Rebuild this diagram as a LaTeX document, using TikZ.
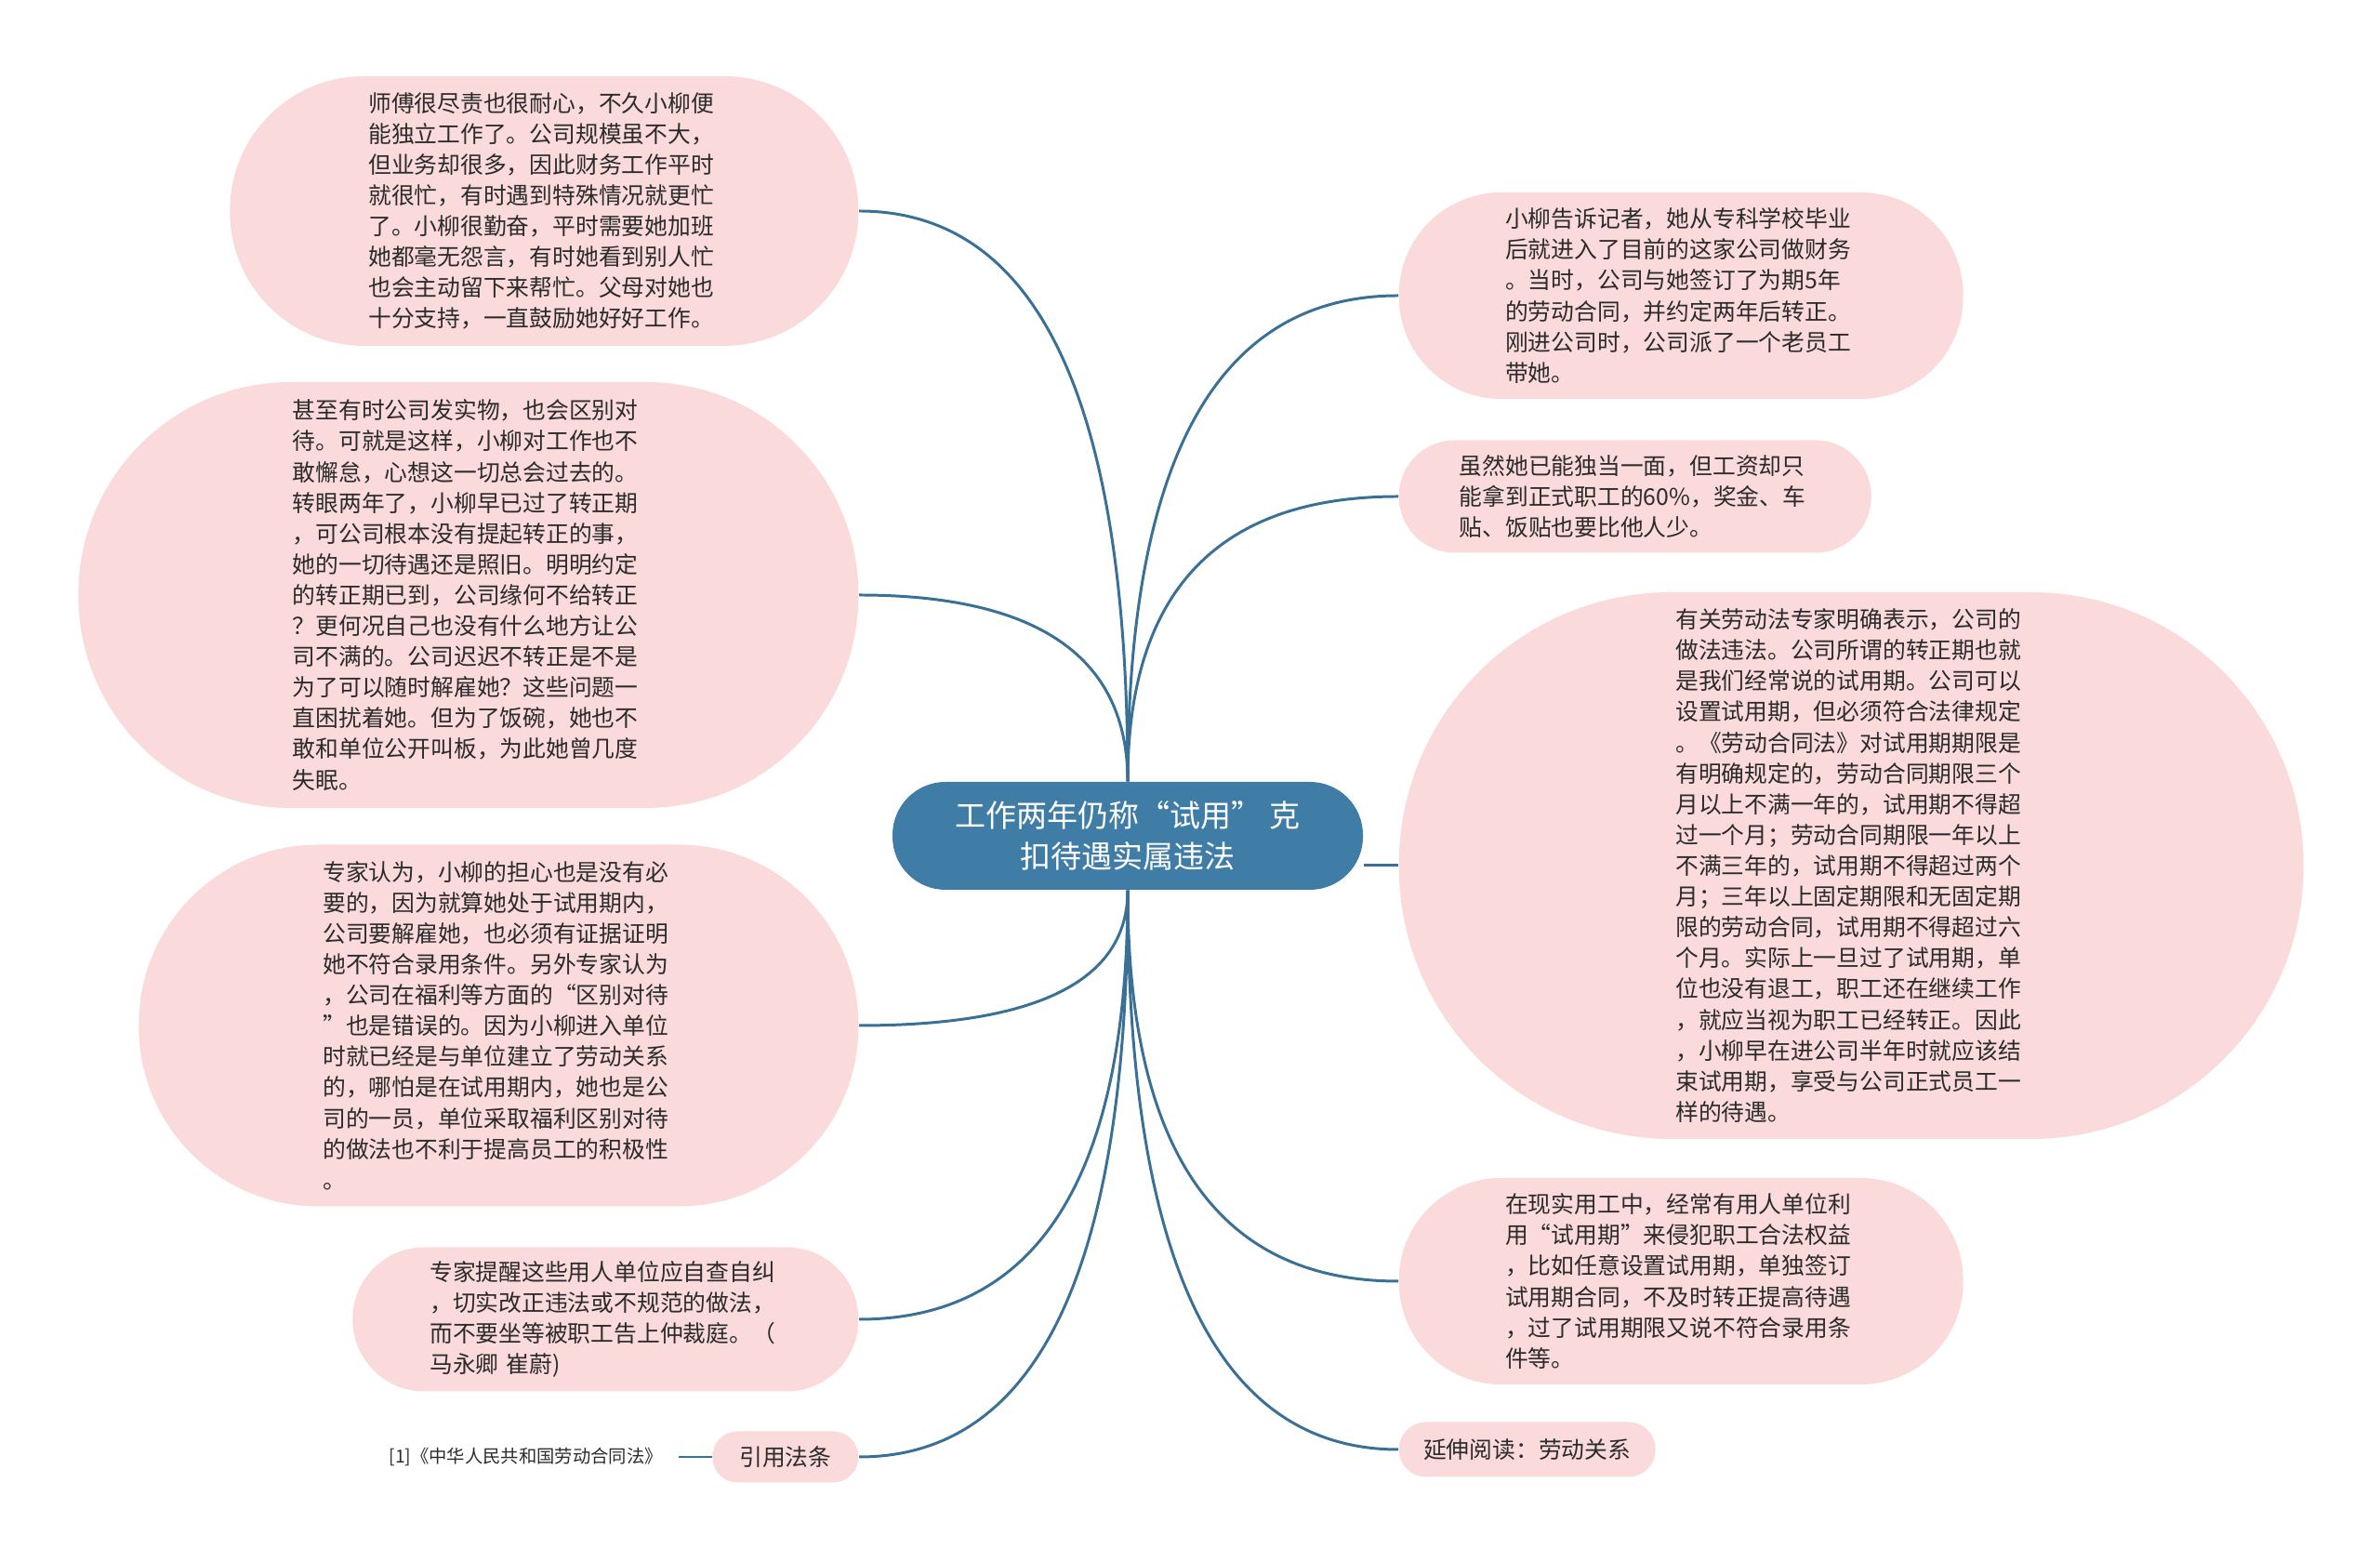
\documentclass[tikz,border=0pt]{standalone}
\usepackage{fontspec}
\newfontfamily\cjk{Noto Sans CJK SC}
\usetikzlibrary{calc,positioning}

\definecolor{topicblue}{HTML}{3F7DA7}
\definecolor{subpink}{HTML}{FADADA}
\definecolor{linkblue}{HTML}{3A6F96}
\definecolor{textgray}{HTML}{2B2B2B}

\tikzset{
    topic/.style={fill=topicblue, text=white, align=center, inner sep=0pt,
        font=\cjk\fontsize{9.4}{12.4}\selectfont},
    subtopic/.style={fill=subpink, text=textgray, align=left, inner sep=0pt,
        text width=3.78cm, font=\cjk\fontsize{7.05}{9.42}\selectfont},
    tag/.style={fill=subpink, text=textgray, align=center, inner sep=0pt,
        font=\cjk\fontsize{7.05}{9.42}\selectfont},
    leaf/.style={text=textgray, inner ysep=0pt, inner xsep=0.16cm,
        font=\cjk\fontsize{5.5}{6.5}\selectfont},
    branch/.style={draw=linkblue, line width=0.85pt},
}

\begin{document}
\begin{tikzpicture}
        \useasboundingbox (0,0) rectangle (25.6,16.8);

        % 中心主题
        \node[topic, minimum width=5.06cm, minimum height=1.16cm, rounded corners=0.57cm] (main) at (12.13,7.81)
            {工作两年仍称“试用” 克\\扣待遇实属违法};

        % 左侧分支
        \node[subtopic, anchor=east, minimum width=6.76cm, minimum height=2.90cm, rounded corners=1.44cm] (L1) at (9.24,14.53)
            {师傅很尽责也很耐心，不久小柳便\\能独立工作了。公司规模虽不大，\\但业务却很多，因此财务工作平时\\就很忙，有时遇到特殊情况就更忙\\了。小柳很勤奋，平时需要她加班\\她都毫无怨言，有时她看到别人忙\\也会主动留下来帮忙。父母对她也\\十分支持，一直鼓励她好好工作。};
        \node[subtopic, anchor=east, minimum width=8.39cm, minimum height=4.58cm, rounded corners=2.28cm] (L2) at (9.24,10.40)
            {甚至有时公司发实物，也会区别对\\待。可就是这样，小柳对工作也不\\敢懈怠，心想这一切总会过去的。\\转眼两年了，小柳早已过了转正期\\，可公司根本没有提起转正的事，\\她的一切待遇还是照旧。明明约定\\的转正期已到，公司缘何不给转正\\？更何况自己也没有什么地方让公\\司不满的。公司迟迟不转正是不是\\为了可以随时解雇她？这些问题一\\直困扰着她。但为了饭碗，她也不\\敢和单位公开叫板，为此她曾几度\\失眠。};
        \node[subtopic, anchor=east, minimum width=7.74cm, minimum height=3.89cm, rounded corners=1.93cm] (L3) at (9.24,5.77)
            {专家认为，小柳的担心也是没有必\\要的，因为就算她处于试用期内，\\公司要解雇她，也必须有证据证明\\她不符合录用条件。另外专家认为\\，公司在福利等方面的“区别对待\\”也是错误的。因为小柳进入单位\\时就已经是与单位建立了劳动关系\\的，哪怕是在试用期内，她也是公\\司的一员，单位采取福利区别对待\\的做法也不利于提高员工的积极性\\。};
        \node[subtopic, anchor=east, minimum width=5.44cm, minimum height=1.55cm, rounded corners=0.77cm] (L4) at (9.24,2.61)
            {专家提醒这些用人单位应自查自纠\\，切实改正违法或不规范的做法，\\而不要坐等被职工告上仲裁庭。（\\马永卿 崔蔚)};
        \node[tag, anchor=east, minimum width=1.57cm, minimum height=0.55cm, rounded corners=0.27cm] (L5) at (9.24,1.13) {引用法条};
        \node[leaf, left=0.36cm of L5] (law) {[1]《中华人民共和国劳动合同法》};

        % 右侧分支
        \node[subtopic, anchor=west, minimum width=6.07cm, minimum height=2.22cm, rounded corners=1.10cm] (R1) at (15.04,13.62)
            {小柳告诉记者，她从专科学校毕业\\后就进入了目前的这家公司做财务\\。当时，公司与她签订了为期5年\\的劳动合同，并约定两年后转正。\\刚进公司时，公司派了一个老员工\\带她。};
        \node[subtopic, anchor=west, minimum width=5.08cm, minimum height=1.21cm, rounded corners=0.60cm] (R2) at (15.04,11.46)
            {虽然她已能独当一面，但工资却只\\能拿到正式职工的60\%，奖金、车\\贴、饭贴也要比他人少。};
        \node[subtopic, anchor=west, minimum width=9.73cm, minimum height=5.88cm, rounded corners=2.93cm] (R3) at (15.04,7.49)
            {有关劳动法专家明确表示，公司的\\做法违法。公司所谓的转正期也就\\是我们经常说的试用期。公司可以\\设置试用期，但必须符合法律规定\\。《劳动合同法》对试用期期限是\\有明确规定的，劳动合同期限三个\\月以上不满一年的，试用期不得超\\过一个月；劳动合同期限一年以上\\不满三年的，试用期不得超过两个\\月；三年以上固定期限和无固定期\\限的劳动合同，试用期不得超过六\\个月。实际上一旦过了试用期，单\\位也没有退工，职工还在继续工作\\，就应当视为职工已经转正。因此\\，小柳早在进公司半年时就应该结\\束试用期，享受与公司正式员工一\\样的待遇。};
        \node[subtopic, anchor=west, minimum width=6.07cm, minimum height=2.22cm, rounded corners=1.10cm] (R4) at (15.04,3.02)
            {在现实用工中，经常有用人单位利\\用“试用期”来侵犯职工合法权益\\，比如任意设置试用期，单独签订\\试用期合同，不及时转正提高待遇\\，过了试用期限又说不符合录用条\\件等。};
        \node[tag, anchor=west, minimum width=2.76cm, minimum height=0.59cm, rounded corners=0.29cm] (R5) at (15.04,1.21) {延伸阅读：劳动关系};

        % 连线
        \foreach \s/\t/\a in {north/L1/east, north/L2/east, south/L3/east, south/L4/east, south/L5/east,
                              north/R1/west, north/R2/west, south/R4/west, south/R5/west}
            \draw[branch] (main.\s) .. controls ($(main.\s)!2/3!(main.\s |- \t.\a)$)
                and ($(\t.\a)!2/3!(main.\s |- \t.\a)$) .. (\t.\a);
        \draw[branch] (main.east |- R3.west) -- (R3.west);
        \draw[branch] (L5.west) -- (law.east);
\end{tikzpicture}
\end{document}
